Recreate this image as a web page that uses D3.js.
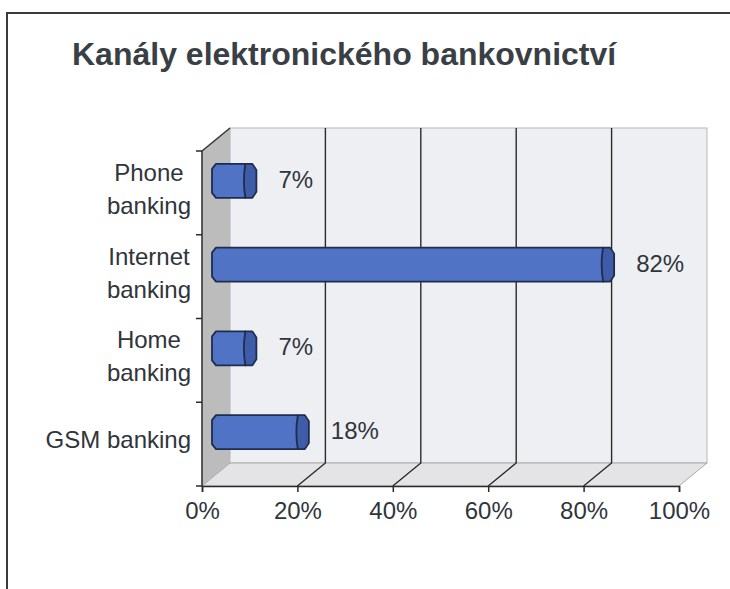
<!DOCTYPE html>
<html>
<head>
<meta charset="utf-8">
<script src="https://cdn.jsdelivr.net/npm/d3@7"></script>
<style>
  body { margin: 0; background: #fff; }
  text { font-family: "Liberation Sans", Arial, sans-serif; fill: #30353b; }
</style>
</head>
<body>
<div id="chart"></div>
<script>
// data
const title = "Kanály elektronického bankovnictví";
const categories = ["Phone\nbanking", "Internet\nbanking", "Home\nbanking", "GSM banking"];
const values = [7, 82, 7, 18];
const tickValues = [0, 20, 40, 60, 80, 100];

const width = 730;
const height = 589;

// 3d depth of the plot box
const depthX = 28;
const depthY = -23;
// bars sit a bit inside the box
const barOffX = 10;
const barOffY = -12;
const barH = 34;
const capW = 11;

const svg = d3.select("#chart")
    .append("svg")
    .attr("width", width)
    .attr("height", height);

// frame round the chart
svg.append("path")
    .attr("d", "M7,589V13H730")
    .attr("fill", "none")
    .attr("stroke", "#3a3a3a")
    .attr("stroke-width", 2);

svg.append("text")
    .attr("x", 72)
    .attr("y", 65)
    .attr("font-size", 32)
    .attr("font-weight", "bold")
    .style("fill", "#3a3f45")
    .text(title);

// scales (front plane)
const x = d3.scaleLinear().domain([0, 100]).range([202, 679]);
const y = d3.scaleBand().domain(categories).range([151, 486]);
const xb = v => x(v) + depthX; // back wall
const plotTop = y.range()[0], plotBottom = y.range()[1];

// left side wall
svg.append("polygon")
    .attr("points", [[x(0), plotTop], [xb(0), plotTop + depthY], [xb(0), plotBottom + depthY], [x(0), plotBottom]].join(" "))
    .attr("fill", "#bcbcbc");

// back wall
svg.append("rect")
    .attr("x", xb(0))
    .attr("y", plotTop + depthY)
    .attr("width", xb(100) - xb(0))
    .attr("height", plotBottom - plotTop)
    .attr("fill", "#eeeff2")
    .attr("stroke", "#b8b8b8")
    .attr("stroke-width", 1);

// floor
svg.append("polygon")
    .attr("points", [[xb(0), plotBottom + depthY], [xb(100), plotBottom + depthY], [x(100), plotBottom], [x(0), plotBottom]].join(" "))
    .attr("fill", "#e4e4e6")
    .attr("stroke", "#aaaaaa")
    .attr("stroke-width", 1);

// top-left edge of the box
svg.append("line")
    .attr("x1", x(0)).attr("y1", plotTop)
    .attr("x2", xb(0)).attr("y2", plotTop + depthY)
    .attr("stroke", "#333").attr("stroke-width", 1.5);

// gridlines on back wall + floor
const inner = tickValues.filter(d => d > 0 && d < 100);
svg.selectAll(".grid")
    .data(inner)
    .enter()
    .append("path")
    .attr("class", "grid")
    .attr("d", d => `M${xb(d)},${plotTop + depthY}V${plotBottom + depthY}L${x(d)},${plotBottom}`)
    .attr("fill", "none")
    .attr("stroke", "#2a2a2a")
    .attr("stroke-width", 1.4);

// x axis
const xAxis = svg.append("g")
    .attr("transform", `translate(0,${plotBottom})`)
    .call(d3.axisBottom(x).tickValues(tickValues).tickSize(6).tickPadding(10).tickFormat(d => d + "%"));
xAxis.select(".domain").attr("stroke", "#2a2a2a").attr("stroke-width", 1.5);
xAxis.selectAll(".tick line").attr("stroke", "#2a2a2a").attr("stroke-width", 1.5);
xAxis.selectAll(".tick text")
    .attr("font-size", 24)
    .attr("font-family", "Liberation Sans, Arial, sans-serif")
    .attr("dy", "0.71em")
    .style("fill", "#30353b");

// y axis line and ticks at category borders
svg.append("line")
    .attr("x1", x(0)).attr("y1", plotTop)
    .attr("x2", x(0)).attr("y2", plotBottom)
    .attr("stroke", "#2a2a2a").attr("stroke-width", 1.5);
svg.selectAll(".ytick")
    .data(categories.map(c => y(c)).concat([plotBottom]))
    .enter()
    .append("line")
    .attr("class", "ytick")
    .attr("x1", x(0) - 6).attr("x2", x(0))
    .attr("y1", d => d).attr("y2", d => d)
    .attr("stroke", "#2a2a2a").attr("stroke-width", 1.5);

// category labels: block right aligned, lines centred inside the block
const labelRight = 191;
categories.forEach(c => {
    const lines = c.split("\n");
    const cy = y(c) + y.bandwidth() / 2;
    const g = svg.append("g");
    const t = g.selectAll("text")
        .data(lines)
        .enter()
        .append("text")
        .attr("font-size", 24)
        .attr("y", (d, i) => lines.length === 1 ? cy + 4 : cy - 12 + i * 33)
        .text(d => d);
    let w = 0;
    t.each(function() { w = Math.max(w, this.getComputedTextLength()); });
    t.attr("x", labelRight - w / 2).attr("text-anchor", "middle");
});

// bars
const bars = svg.selectAll(".bar")
    .data(values)
    .enter()
    .append("g")
    .attr("class", "bar");

bars.append("polygon")
    .attr("points", (d, i) => {
        const x0 = x(0) + barOffX;
        const xe = x(d) + barOffX;
        const cy = y(categories[i]) + y.bandwidth() / 2 + barOffY;
        const t = cy - barH / 2, b = cy + barH / 2;
        return [[x0 + 4, t], [xe, t], [xe, b], [x0 + 4, b], [x0, b - 5], [x0, t + 5]].join(" ");
    })
    .attr("fill", "#5073c6")
    .attr("stroke", "#1f2c4c")
    .attr("stroke-width", 1.8)
    .attr("stroke-linejoin", "round");

// right end cap
bars.append("path")
    .attr("d", (d, i) => {
        const xe = x(d) + barOffX;
        const cy = y(categories[i]) + y.bandwidth() / 2 + barOffY;
        const t = cy - barH / 2, b = cy + barH / 2;
        return `M${xe},${t}H${xe + capW - 4}L${xe + capW},${t + 6}V${b - 6}L${xe + capW - 4},${b}H${xe}Q${xe - 3},${cy} ${xe},${t}Z`;
    })
    .attr("fill", "#3e5ca8")
    .attr("stroke", "#1f2c4c")
    .attr("stroke-width", 1.8)
    .attr("stroke-linejoin", "round");

// value labels
svg.selectAll(".val")
    .data(values)
    .enter()
    .append("text")
    .attr("class", "val")
    .attr("font-size", 24)
    .attr("x", d => x(d) + barOffX + capW + 22)
    .attr("y", (d, i) => y(categories[i]) + y.bandwidth() / 2 - 5)
    .text(d => d + "%");
</script>
</body>
</html>
